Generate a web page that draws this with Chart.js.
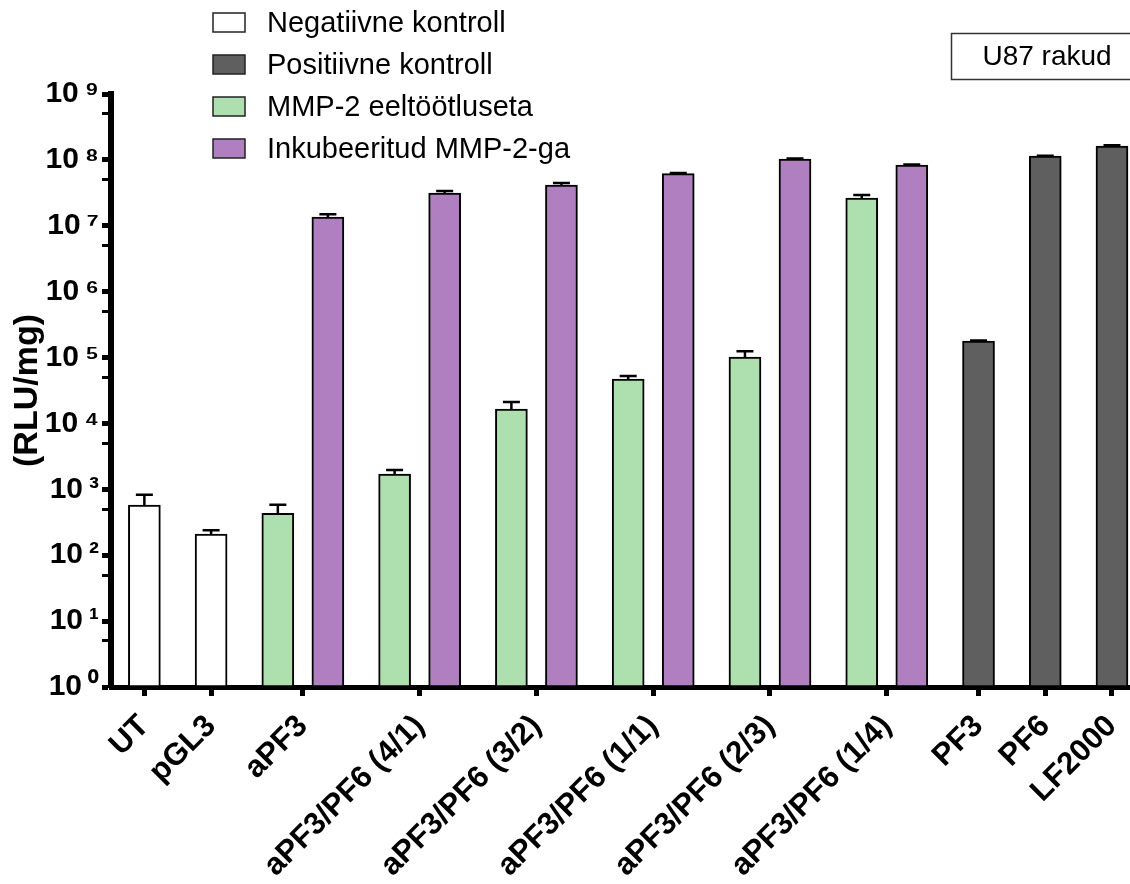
<!DOCTYPE html>
<html>
<head>
<meta charset="utf-8">
<script src="https://cdn.jsdelivr.net/npm/chart.js@4.4.0/dist/chart.umd.min.js"></script>
<style>
html,body{margin:0;padding:0;background:#fff;}
#wrap{width:1130px;height:884px;position:relative;}
</style>
</head>
<body>
<div id="wrap"><canvas id="c"></canvas></div>
<script>
// ---------------- data ----------------
const categories = ['UT', 'pGL3', 'aPF3', 'aPF3/PF6 (4/1)', 'aPF3/PF6 (3/2)', 'aPF3/PF6 (1/1)',
                    'aPF3/PF6 (2/3)', 'aPF3/PF6 (1/4)', 'PF3', 'PF6', 'LF2000'];
const seriesNames = ['Negatiivne kontroll', 'Positiivne kontroll', 'MMP-2 eeltöötluseta', 'Inkubeeritud MMP-2-ga'];

const negativeControl    = [578, 210, null, null, null, null, null, null, null, null, null];
const negativeControlErr = [250, 29,  null, null, null, null, null, null, null, null, null];

const positiveControl    = [null, null, null, null, null, null, null, null, 1.78e5, 1.14e8, 1.62e8];
const positiveControlErr = [null, null, null, null, null, null, null, null, 3e3,    2e6,    5e6];

const mmpUntreated    = [null, null, 432, 1707, 1.65e4, 4.72e4, 1.02e5, 2.63e7, null, null, null];
const mmpUntreatedErr = [null, null, 152, 256,  4.6e3,  5.2e3,  2.3e4,  2.9e6,  null, null, null];

const mmpIncubated    = [null, null, 1.36e7, 3.13e7, 4.15e7, 6.2e7, 1.03e8, 8.34e7, null, null, null];
const mmpIncubatedErr = [null, null, 1.4e6,  2.3e6,  3e6,    1.5e6, 2e6,    1.5e6,  null, null, null];

const yTickExponents = [0, 1, 2, 3, 4, 5, 6, 7, 8, 9];
const yTitle = '(RLU/mg)';
const panelLabel = 'U87 rakud';

// ---------------- styles / layout ----------------
const seriesValues = [negativeControl, positiveControl, mmpUntreated, mmpIncubated];
const seriesErrors = [negativeControlErr, positiveControlErr, mmpUntreatedErr, mmpIncubatedErr];
const seriesColors = ['#ffffff', '#5f5f5f', '#aedfae', '#b07fbf'];
const FONT = '"Liberation Sans", Arial, sans-serif';
const GROUP_STEP = 1, PAIR_STEP = 0.75;

// compute bar slot positions from category structure
const barX = seriesValues.map(() => categories.map(() => null));
const tickX = [];
let cursor = null;
categories.forEach((c, ci) => {
  const present = seriesValues.map((s, si) => (s[ci] != null ? si : -1)).filter(si => si >= 0);
  const xs = [];
  present.forEach((si, k) => {
    cursor = cursor === null ? 0 : cursor + (k === 0 ? GROUP_STEP : PAIR_STEP);
    barX[si][ci] = cursor;
    xs.push(cursor);
  });
  tickX.push(xs.reduce((a, b) => a + b, 0) / xs.length);
});

const datasets = seriesValues.map((vals, si) => ({
  label: seriesNames[si],
  data: categories.map((c, ci) => vals[ci] == null ? null :
        ({ x: barX[si][ci], y: vals[ci], err: seriesErrors[si][ci] })).filter(Boolean),
  backgroundColor: seriesColors[si],
  borderColor: '#000',
  borderWidth: 2,
  borderSkipped: false,
  grouped: false,
  barThickness: 32
}));

const SUP = ['⁰','¹','²','³','⁴','⁵','⁶','⁷','⁸','⁹'];
function pow10Exp(v) {
  const e = Math.log10(v);
  return Math.abs(e - Math.round(e)) < 1e-9 ? Math.round(e) : null;
}

const errorBarPlugin = {
  id: 'errorBars',
  afterDatasetsDraw(chart) {
    const { ctx } = chart;
    const y = chart.scales.y;
    ctx.save();
    ctx.strokeStyle = '#000';
    ctx.lineWidth = 2.5;
    chart.data.datasets.forEach((ds, di) => {
      const meta = chart.getDatasetMeta(di);
      meta.data.forEach((bar, j) => {
        const p = ds.data[j];
        if (!p || !p.err) return;
        const yTop = y.getPixelForValue(p.y + p.err);
        ctx.beginPath();
        ctx.moveTo(bar.x, bar.y);
        ctx.lineTo(bar.x, yTop);
        ctx.moveTo(bar.x - 8.5, yTop);
        ctx.lineTo(bar.x + 8.5, yTop);
        ctx.stroke();
      });
    });
    ctx.restore();
  }
};

const legendPlugin = {
  id: 'customLegend',
  afterDraw(chart) {
    const { ctx } = chart;
    ctx.save();
    chart.data.datasets.forEach((ds, i) => {
      const bx = 213, by = 13 + 42 * i;
      ctx.fillStyle = ds.backgroundColor;
      ctx.fillRect(bx, by, 32, 19);
      ctx.strokeStyle = '#222';
      ctx.lineWidth = 1.5;
      ctx.strokeRect(bx, by, 32, 19);
      ctx.fillStyle = '#000';
      ctx.font = '29px ' + FONT;
      ctx.textBaseline = 'middle';
      ctx.textAlign = 'left';
      ctx.fillText(ds.label, 267, by + 11);
    });
    // panel label box
    ctx.strokeStyle = '#333';
    ctx.lineWidth = 1.5;
    ctx.strokeRect(951.5, 33.5, 190, 46);
    ctx.fillStyle = '#000';
    ctx.font = '28px ' + FONT;
    ctx.textAlign = 'center';
    ctx.textBaseline = 'middle';
    ctx.fillText(panelLabel, 1047, 57);
    ctx.restore();
  }
};

Chart.defaults.font.family = FONT;
Chart.defaults.color = '#000';

new Chart(document.getElementById('c'), {
  type: 'bar',
  data: { datasets },
  options: {
    responsive: true,
    maintainAspectRatio: false,
    animation: false,
    layout: { padding: { top: 94, left: 0, right: 0, bottom: 0 } },
    plugins: { legend: { display: false }, tooltip: { enabled: false } },
    scales: {
      x: {
        type: 'linear',
        min: tickX[0] - 0.5,
        max: tickX[tickX.length - 1] + 0.27,
        offset: false,
        grid: { display: true, drawOnChartArea: false, drawTicks: true, tickLength: 9, tickWidth: 5, tickColor: '#000', offset: false },
        border: { display: true, color: '#000', width: 5 },
        afterBuildTicks: s => { s.ticks = tickX.map(v => ({ value: v })); },
        ticks: {
          autoSkip: false, minRotation: 45, maxRotation: 45, padding: 12, color: '#000',
          font: { family: FONT, size: 31, weight: 'bold' },
          callback: (v, i) => categories[i]
        },
        afterFit: s => { s.height = 197; s.paddingLeft = 0; s.paddingRight = 0; }
      },
      y: {
        type: 'logarithmic',
        min: Math.pow(10, yTickExponents[0]),
        max: Math.pow(10, yTickExponents[yTickExponents.length - 1]),
        grid: {
          display: true, drawOnChartArea: false, drawTicks: true, tickLength: 9,
          tickWidth: c => (pow10Exp(c.tick.value) !== null ? 5 : 3), tickColor: '#000'
        },
        border: { display: true, color: '#000', width: 6 },
        afterBuildTicks: s => {
          const t = [];
          yTickExponents.forEach((e, i) => {
            t.push({ value: Math.pow(10, e) });
            if (i < yTickExponents.length - 1) t.push({ value: 5 * Math.pow(10, e) });
          });
          s.ticks = t;
        },
        ticks: {
          autoSkip: false, padding: 3, color: '#000',
          font: { family: FONT, size: 30, weight: 'bold' },
          callback: v => {
            const e = pow10Exp(v);
            return e === null ? '' : '10\u2009' + String(e).split('').map(d => SUP[+d]).join('');
          }
        },
        title: {
          display: true, text: yTitle, color: '#000',
          font: { family: FONT, size: 34, weight: 'bold' },
          padding: { top: 7, bottom: 0 }
        },
        afterFit: s => { s.width = 111; s.paddingTop = 0; s.paddingBottom = 0; }
      }
    }
  },
  plugins: [errorBarPlugin, legendPlugin]
});
</script>
</body>
</html>
